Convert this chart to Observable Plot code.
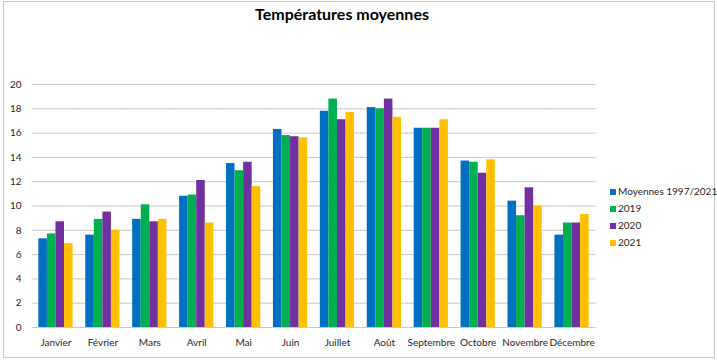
<!DOCTYPE html>
<html>
<head>
<meta charset="utf-8">
<script src="https://cdn.jsdelivr.net/npm/d3@7"></script>
<script src="https://cdn.jsdelivr.net/npm/@observablehq/plot@0.6"></script>
<style>
  html, body { margin: 0; padding: 0; background: #fff; }
  #wrap { position: relative; width: 717px; height: 362px; overflow: hidden; font-family: Lato, "Open Sans", sans-serif; }
  #border { position: absolute; left: 3px; top: 1px; width: 710px; height: 355px; border: 1px solid #c8c8c8; }
  #title { position: absolute; left: 0; width: 684px; top: 4px; text-align: center; font-weight: bold; font-size: 16px; color: #000; }
  #legend { position: absolute; left: 610px; top: 183px; font-size: 10px; color: #262626; }
  #legend div { height: 16.9px; line-height: 16.9px; white-space: nowrap; }
  #legend span.sw { display: inline-block; width: 6px; height: 6px; margin-right: 2px; vertical-align: 0px; }
  svg { position: absolute; left: 0; top: 0; }
</style>
</head>
<body>
<div id="wrap">
  <div id="border"></div>
  <div id="title">Températures moyennes</div>
  <div id="legend"></div>
</div>
<script>
const months = ["Janvier","Février","Mars","Avril","Mai","Juin","Juillet","Août","Septembre","Octobre","Novembre","Décembre"];
const series = ["Moyennes 1997/2021","2019","2020","2021"];
const colors = ["#0070C0","#00B050","#7030A0","#FFC000"];
const moyennes = [7.3, 7.6, 8.9, 10.8, 13.5, 16.3, 17.8, 18.1, 16.4, 13.7, 10.4, 7.6];
const y2019    = [7.7, 8.9, 10.1, 10.9, 12.9, 15.8, 18.8, 18.0, 16.4, 13.6, 9.2, 8.6];
const y2020    = [8.7, 9.5, 8.7, 12.1, 13.6, 15.7, 17.1, 18.8, 16.4, 12.7, 11.5, 8.6];
const y2021    = [6.9, 8.0, 8.9, 8.6, 11.6, 15.6, 17.7, 17.3, 17.1, 13.8, 10.0, 9.3];
const yTicks = [0, 2, 4, 6, 8, 10, 12, 14, 16, 18, 20];

const values = [moyennes, y2019, y2020, y2021];
const data = months.flatMap((m, i) => series.map((s, j) => ({month: m, series: s, value: values[j][i]})));

const W = 717, H = 362, left = 32, right = 122, mT = 84, mB = 35;
const pad = 0.27;
const n = months.length;
const step = (W - left - right) / n;   // one month slot spans the plot area evenly
const half = pad * step / 2;           // half gap between groups
// facet band scale has no outer padding: put the half gap in the margins
const mL = left + half, mR = right + half;

const plot = Plot.plot({
  width: W,
  height: H,
  marginLeft: mL,
  marginRight: mR,
  marginTop: mT,
  marginBottom: mB,
  style: {fontFamily: "Lato, 'Open Sans', sans-serif", fontSize: "10px", color: "#404040", background: "transparent"},
  fx: {domain: months, padding: pad, round: false, label: null},
  x: {domain: series, padding: 0, round: false, axis: null},
  y: {domain: [0, 20], axis: null},
  color: {domain: series, range: colors},
  marks: [
    Plot.ruleY(yTicks, {stroke: "#c8c8c8", strokeWidth: 1, insetLeft: -half - 0.5, insetRight: -half - 0.5}),
    Plot.barY(data, {fx: "month", x: "series", y: "value", fill: "series"}),
    Plot.axisY({ticks: yTicks, tickSize: 0, tickPadding: 11, tickFormat: d => d, label: null, fill: "#262626", line: true, stroke: "#bdbdbd", dx: -half}),
    Plot.axisFx({anchor: "bottom", tickSize: 0, tickPadding: 11, label: null, fill: "#262626"})
  ]
});
document.getElementById("wrap").appendChild(plot);

const legend = document.getElementById("legend");
series.forEach((s, i) => {
  const row = document.createElement("div");
  const sw = document.createElement("span");
  sw.className = "sw";
  sw.style.background = colors[i];
  row.appendChild(sw);
  row.appendChild(document.createTextNode(s));
  legend.appendChild(row);
});
</script>
</body>
</html>
